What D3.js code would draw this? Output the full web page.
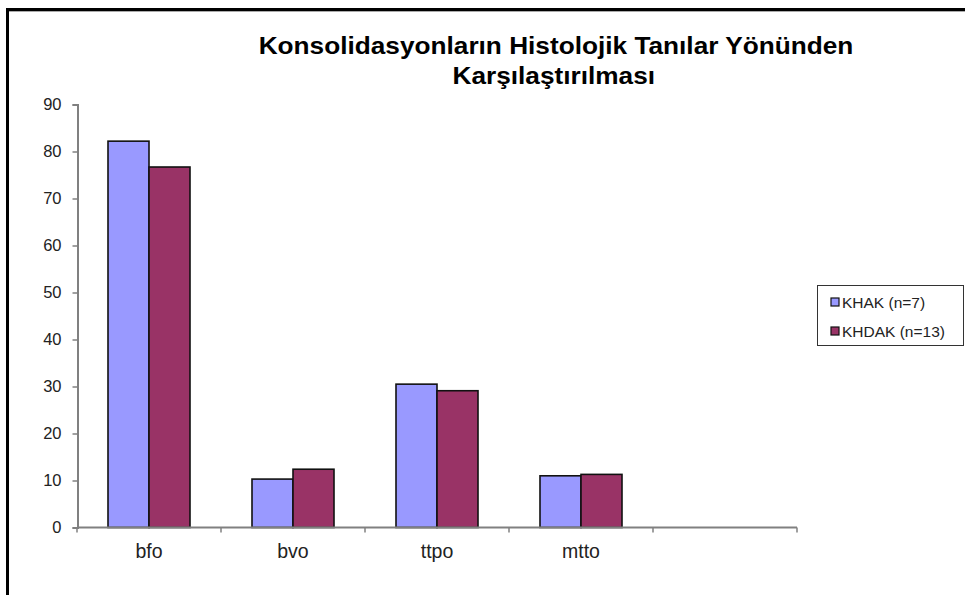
<!DOCTYPE html>
<html>
<head>
<meta charset="utf-8">
<script src="https://cdn.jsdelivr.net/npm/d3@7"></script>
<style>
  body { margin: 0; background: #fff; }
  svg { display: block; font-family: Arial, "Liberation Sans", sans-serif; }
</style>
</head>
<body>
<svg id="chart" width="965" height="595"></svg>
<script>
// data
var categories = ["bfo", "bvo", "ttpo", "mtto", ""];
var seriesNames = ["KHAK (n=7)", "KHDAK (n=13)"];
var khak = [82.2, 10.3, 30.5, 11.0];
var khdak = [76.7, 12.4, 29.1, 11.3];
var yTicks = [0, 10, 20, 30, 40, 50, 60, 70, 80, 90];
var colors = ["#9999ff", "#993366"];

var svg = d3.select("#chart");

// outer frame (cropped on right and bottom)
svg.append("path")
    .attr("d", "M7.5,600 V9.5 H970")
    .attr("fill", "none")
    .attr("stroke", "#000")
    .attr("stroke-width", 3);
svg.append("line")
    .attr("x1", 9).attr("x2", 965)
    .attr("y1", 11.5).attr("y2", 11.5)
    .attr("stroke", "#aaa").attr("stroke-width", 1);

var x = d3.scaleBand()
    .domain(categories)
    .range([77, 797]);
var y = d3.scaleLinear()
    .domain([0, 90])
    .range([527.5, 104.5]);

var groupPad = 31;
var xs = d3.scaleBand()
    .domain(seriesNames)
    .range([groupPad, x.bandwidth() - groupPad]);

// title (the original is a bit stretched sideways)
var title = svg.append("text")
    .attr("transform", "translate(556,0) scale(1.14,1)")
    .attr("text-anchor", "middle")
    .attr("font-weight", "bold")
    .attr("font-size", 23)
    .attr("fill", "#000");
title.append("tspan").attr("x", 0).attr("y", 54).text("Konsolidasyonların Histolojik Tanılar Yönünden");
title.append("tspan").attr("x", -2).attr("y", 84).text("Karşılaştırılması");

// y axis
var yAxis = svg.append("g")
    .attr("transform", "translate(77.5,0)")
    .call(d3.axisLeft(y).tickValues(yTicks).tickSize(5).tickPadding(11));
yAxis.select(".domain").attr("stroke", "#808080").attr("stroke-width", 2);
yAxis.selectAll(".tick line").attr("stroke", "#808080").attr("stroke-width", 1.5);
yAxis.selectAll(".tick text").attr("font-size", 16.5).attr("fill", "#222")
    .attr("font-family", "Arial, 'Liberation Sans', sans-serif");

// bars
var data = categories.slice(0, 4).map(function(c, i) {
    return {cat: c, vals: [khak[i], khdak[i]]};
});
var groups = svg.selectAll("g.group")
    .data(data)
    .enter().append("g")
    .attr("class", "group")
    .attr("transform", function(d) { return "translate(" + x(d.cat) + ",0)"; });
groups.selectAll("rect")
    .data(function(d) { return d.vals.map(function(v, j) { return {name: seriesNames[j], v: v, j: j}; }); })
    .enter().append("rect")
    .attr("x", function(d) { return xs(d.name); })
    .attr("width", xs.bandwidth())
    .attr("y", function(d) { return y(d.v); })
    .attr("height", function(d) { return y(0) - y(d.v); })
    .attr("fill", function(d) { return colors[d.j]; })
    .attr("stroke", "#111")
    .attr("stroke-width", 1.6);

// x axis
var xg = svg.append("g").attr("transform", "translate(0," + y(0) + ")");
xg.append("line")
    .attr("x1", 77).attr("x2", 797)
    .attr("stroke", "#808080").attr("stroke-width", 2);
var bounds = categories.map(function(c) { return x(c); }).concat([x.range()[1]]);
xg.selectAll("line.tk")
    .data(bounds)
    .enter().append("line")
    .attr("class", "tk")
    .attr("x1", function(d) { return d; }).attr("x2", function(d) { return d; })
    .attr("y1", 0).attr("y2", 5)
    .attr("stroke", "#808080").attr("stroke-width", 1.5);
xg.selectAll("text")
    .data(categories)
    .enter().append("text")
    .attr("x", function(d) { return x(d) + x.bandwidth() / 2; })
    .attr("y", 30)
    .attr("text-anchor", "middle")
    .attr("font-size", 19.5)
    .attr("fill", "#222")
    .text(function(d) { return d; });

// legend
var lg = svg.append("g").attr("transform", "translate(817,285)");
lg.append("rect")
    .attr("x", 0.5).attr("y", 0.5)
    .attr("width", 146).attr("height", 60)
    .attr("fill", "#fff")
    .attr("stroke", "#333").attr("stroke-width", 1);
var items = lg.selectAll("g.item")
    .data(seriesNames)
    .enter().append("g")
    .attr("class", "item")
    .attr("transform", function(d, i) { return "translate(14," + (17 + i * 29) + ")"; });
items.append("rect")
    .attr("x", 0).attr("y", -4)
    .attr("width", 8).attr("height", 8)
    .attr("fill", function(d, i) { return colors[i]; })
    .attr("stroke", "#111").attr("stroke-width", 1.2);
items.append("text")
    .attr("x", 11)
    .attr("y", 5.5)
    .attr("font-size", 15.5)
    .attr("fill", "#222")
    .text(function(d) { return d; });
</script>
</body>
</html>
